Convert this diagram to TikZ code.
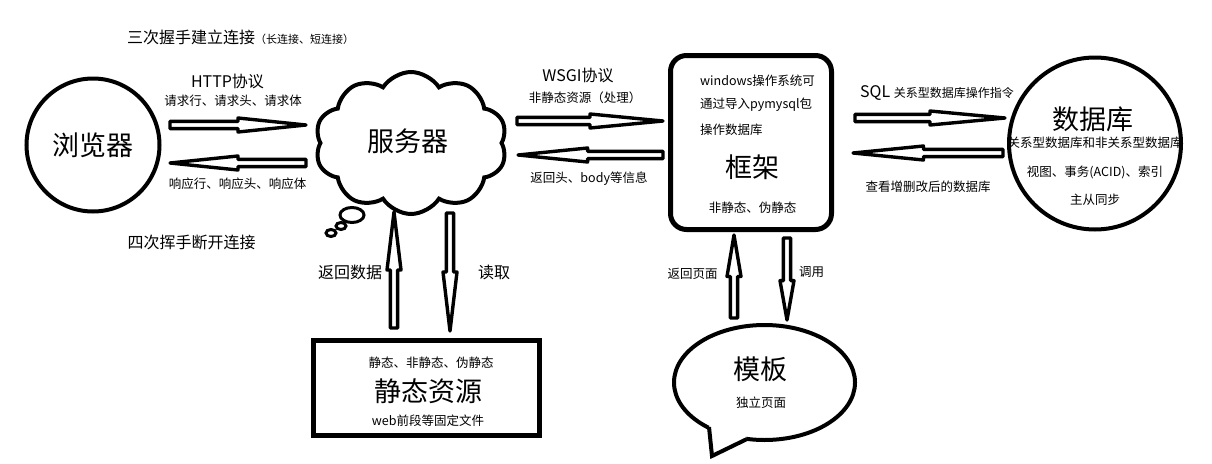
\documentclass[tikz,border=0pt]{standalone}
\usepackage{fontspec}
\setmainfont{Noto Sans CJK SC}
\usetikzlibrary{shapes.symbols,shapes.geometric,calc}
\newcommand\fatarrow[3][0.5]{%
  \draw[fatarr] ($(#2)!3.6pt!90:(#3)$) -- ($(#2)!#1!(#3)!3.6pt!90:(#3)$)
    -- ($(#2)!#1!(#3)!7pt!90:(#3)$) -- (#3) -- ($(#2)!#1!(#3)!7pt!-90:(#3)$)
    -- ($(#2)!#1!(#3)!3.6pt!-90:(#3)$) -- ($(#2)!3.6pt!-90:(#3)$) -- cycle;}
\begin{document}
\begin{tikzpicture}[x=1pt,y=-1pt,
  fatarr/.style={draw=black,fill=white,line width=3.4pt,line join=round},
  mid/.style={inner sep=0pt,font=\fontsize{16}{16}\selectfont},
  sml/.style={inner sep=0pt,font=\fontsize{12.5}{12.5}\selectfont},
  tiny/.style={inner sep=0pt,font=\fontsize{11}{11}\selectfont},
  big/.style={inner sep=0pt,font=\fontsize{27}{27}\selectfont},
  thick4/.style={draw=black,line width=4pt,fill=white},
  bubble/.style={ellipse,draw=black,line width=3pt,fill=white,inner sep=0pt},
]
\useasboundingbox[fill=white] (0,0) rectangle (1212,463);

% --- nodes ---
\node[thick4,circle,minimum size=133pt,inner sep=0pt,big] (browser) at (93,145) {浏览器};
\node[thick4,cloud,cloud puffs=10,cloud puff arc=115,aspect=1.35,
      minimum width=192pt,minimum height=142pt,inner sep=0pt,big] (server) at (411,143) {};
\node[big] (servertxt) at (408,141) {服务器};
\node[bubble,minimum width=24pt,minimum height=15pt] (b1) at (352,215) {};
\node[bubble,minimum width=10pt,minimum height=7pt] (b2) at (341,226) {};
\node[bubble,minimum width=10pt,minimum height=7pt] (b3) at (331,233) {};

\node[draw=black,line width=5pt,fill=white,minimum width=226pt,minimum height=95pt,inner sep=0pt] (static) at (426.5,388) {};
\node[sml] (st1) at (431,363) {静态、非静态、伪静态};
\node[big] (st2) at (428,391) {静态资源};
\node[sml] (st3) at (428,421) {web前段等固定文件};

\node[draw=black,line width=5pt,fill=white,rounded corners=16pt,minimum width=161pt,minimum height=174pt,inner sep=0pt] (fw) at (751,142.5) {};
\node[sml,anchor=west] (fw1) at (700,81) {windows操作系统可};
\node[sml,anchor=west] (fw2) at (700,105) {通过导入pymysql包};
\node[sml,anchor=west] (fw3) at (700,130) {操作数据库};
\node[big] (fw4) at (752.5,167) {框架};
\node[sml] (fw5) at (752.5,208) {非静态、伪静态};

\node[thick4,circle,minimum size=172pt,inner sep=0pt] (db) at (1095,143.5) {};
\node[big] (db1) at (1093,119) {数据库};
\node[sml] (db2) at (1095,143) {关系型数据库和非关系型数据库};
\node[sml] (db3) at (1095,172) {视图、事务(ACID)、索引};
\node[sml] (db4) at (1095,200) {主从同步};

% template speech bubble
\node[thick4,ellipse,minimum width=181pt,minimum height=115pt,inner sep=0pt] (tpl) at (764.5,382.5) {};
\fill[white] (709,427) -- (712,456) -- (747,439) -- (744,433) -- (712,422) -- cycle;
\coordinate (tl) at (709,427);
\coordinate (tb) at (712,456);
\coordinate (tr) at (747,439);
\draw[line width=4pt,line join=miter] (tl) -- (tb) -- (tr);
\node[big] (tpl1) at (760,369) {模板};
\node[sml] (tpl2) at (761,403) {独立页面};

% --- labels ---
\node[anchor=west,inner sep=0pt] (hs) at (127,37) {\fontsize{16}{16}\selectfont 三次握手建立连接\fontsize{11}{11}\selectfont （长连接、短连接）};
\node[mid] (http) at (227.5,81) {HTTP协议};
\node[sml] (req) at (233,101) {请求行、请求头、请求体};
\node[sml] (resp) at (237.5,184) {响应行、响应头、响应体};
\node[mid] (bye) at (191.5,242) {四次挥手断开连接};
\node[mid] (wsgi) at (578,75) {WSGI协议};
\node[sml] (nonst) at (585,98) {非静态资源（处理）};
\node[sml] (rethead) at (589,179) {返回头、body等信息};
\node[mid] (retdata) at (350,272) {返回数据};
\node[mid] (read) at (494,272) {读取};
\node[sml] (retpage) at (692.5,274) {返回页面};
\node[sml] (call) at (811.5,272) {调用};
\node[anchor=west,inner sep=0pt] (sql) at (860,93) {\fontsize{16}{16}\selectfont SQL \fontsize{12}{12}\selectfont 关系型数据库操作指令};
\node[sml] (view) at (928,187) {查看增删改后的数据库};

% --- connectors ---
\coordinate (a1s) at (170,125);  \coordinate (a1t) at (306,125);
\coordinate (a2s) at (306,163);  \coordinate (a2t) at (170,163);
\coordinate (a3s) at (517,121);  \coordinate (a3t) at (663,121);
\coordinate (a4s) at (663,155);  \coordinate (a4t) at (518,155);
\coordinate (a5s) at (855,118);  \coordinate (a5t) at (1005,118);
\coordinate (a6s) at (1003,153); \coordinate (a6t) at (853,153);
\coordinate (a7s) at (394,328);  \coordinate (a7t) at (394,212);
\coordinate (a8s) at (450,213);  \coordinate (a8t) at (450,331);
\coordinate (a9s) at (734,318);  \coordinate (a9t) at (734,235);
\coordinate (a10s) at (787,238); \coordinate (a10t) at (787,320);
\fatarrow{a1s}{a1t}
\fatarrow{a2s}{a2t}
\fatarrow{a3s}{a3t}
\fatarrow[0.52]{a4s}{a4t}
\fatarrow{a5s}{a5t}
\fatarrow[0.53]{a6s}{a6t}
\fatarrow{a7s}{a7t}
\fatarrow{a8s}{a8t}
\fatarrow{a9s}{a9t}
\fatarrow[0.52]{a10s}{a10t}
\end{tikzpicture}
\end{document}
